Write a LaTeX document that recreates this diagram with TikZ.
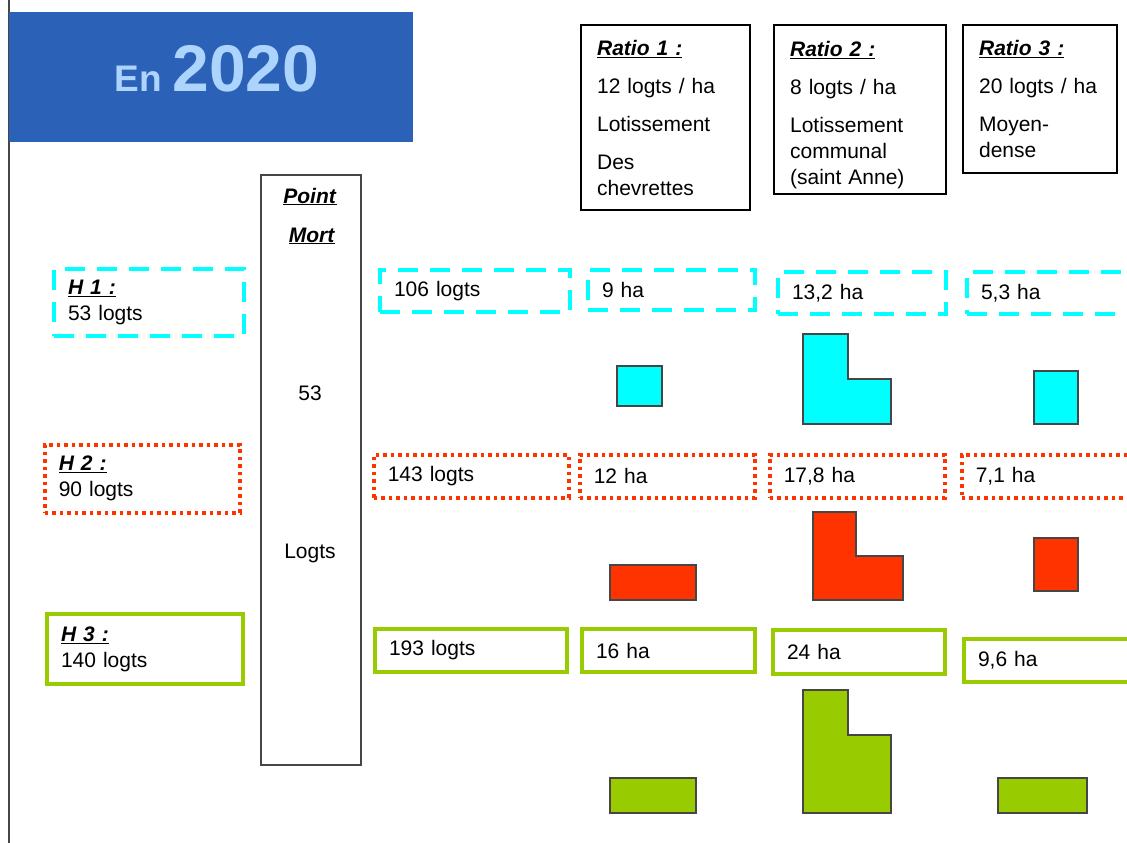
\documentclass[tikz,border=0pt]{standalone}
\usepackage{fontspec}
\setmainfont{Liberation Sans}
\usetikzlibrary{positioning}

\definecolor{bandblue}{RGB}{43,98,184}
\definecolor{titleblue}{RGB}{172,212,252}
\definecolor{hcyan}{RGB}{0,255,255}
\definecolor{hred}{RGB}{255,51,0}
\definecolor{hgreen}{RGB}{153,204,0}
\definecolor{edgegray}{RGB}{70,70,70}

\newcommand{\hlabel}[1]{\underline{\textbf{\textit{#1}}}}

\begin{document}
\begin{tikzpicture}[
    x=1pt, y=-1pt,
    font=\fontsize{21}{26}\selectfont,
    % Size of a cell: width and height, text starts 14pt inside
    boxdim/.code 2 args={%
        \pgfmathsetmacro\cellw{#1-28}%
        \edef\cellset{\noexpand\tikzset{minimum width=#1pt, minimum height=#2pt, text width=\cellw pt}}%
        \cellset},
    % Common look of the cells
    cell/.style={rectangle, anchor=north west, inner xsep=14pt, inner ysep=0pt, align=left},
    % Style for each scenario
    cyanbox/.style={cell, draw=hcyan, line width=4pt, dash pattern=on 20pt off 12pt},
    redbox/.style={cell, draw=hred, line width=3.5pt, dash pattern=on 3.5pt off 4pt},
    greenbox/.style={cell, draw=hgreen, line width=4pt},
    % Style for the ratio headers
    ratiobox/.style={rectangle, draw=black, line width=2.2pt, anchor=north west,
        inner xsep=16pt, inner ysep=0pt, align=left},
    % Style for the surface shapes
    plot/.style={draw=edgegray, line width=1.2pt}
]
\clip (0,0) rectangle (1127,843);

% --- Title band ---
\draw[edgegray, line width=1.5pt] (9,0) -- (9,843);
\node[fill=bandblue, anchor=north west, inner sep=0pt, minimum width=404pt, minimum height=130pt] (band) at (9,12) {};
\node[anchor=base, text=titleblue, inner sep=0pt] (title) at (217,92)
    {\fontsize{37}{37}\selectfont\bfseries En \fontsize{66}{66}\selectfont 2020};

% --- Ratio headers ---
\node[ratiobox, minimum width=169pt, minimum height=185pt, text width=137pt] (ratio1) at (580,24)
    {\hlabel{Ratio 1 :}\\[12pt] 12 logts / ha\\[12pt] Lotissement\\[12pt] Des\\ chevrettes};
\node[ratiobox, minimum width=172pt, minimum height=169pt, text width=140pt] (ratio2) at (773,24)
    {\rule{0pt}{26pt}\hlabel{Ratio 2 :}\\[12pt] 8 logts / ha\\[12pt] Lotissement\\ communal\\ (saint Anne)};
\node[ratiobox, minimum width=151pt, minimum height=148pt, text width=122pt] (ratio3) at (962,24)
    {\hlabel{Ratio 3 :}\\[12pt] 20 logts / ha\\[12pt] Moyen-\\ dense};

% --- Point mort column ---
\node[rectangle, draw=edgegray, line width=1.5pt, anchor=north west, minimum width=100pt, minimum height=590pt] (pm) at (260,174) {};
\node[anchor=base] (pmtop) at (310,203) {\hlabel{Point}};
\node[anchor=base] (pmbot) at (312,242) {\hlabel{Mort}};
\node[anchor=base] (pmval) at (310,400) {53};
\node[anchor=base] (pmunit) at (310,558) {Logts};

% --- H 1 ---
\node[cyanbox, boxdim={190}{67}] (h1) at (52,267) {\hlabel{H 1 :}\\ 53 logts};
\node[cyanbox, boxdim={190}{42}] (h1log) at (378,268) {106 logts};
\node[cyanbox, boxdim={167}{40}] (h1r1) at (586,268) {9 ha};
\node[cyanbox, boxdim={168}{42}] (h1r2) at (776,270) {13,2 ha};
\node[cyanbox, boxdim={200}{42}] (h1r3) at (965,270) {5,3 ha};
\draw[plot, fill=hcyan] (617,366) rectangle (662,406);
\draw[plot, fill=hcyan] (803,334) -- (848,334) -- (848,379) -- (891,379) -- (891,424) -- (803,424) -- cycle;
\draw[plot, fill=hcyan] (1034,371) rectangle (1078,424);

% --- H 2 ---
\node[redbox, boxdim={195}{68}] (h2) at (43,443) {\hlabel{H 2 :}\\ 90 logts};
\node[redbox, boxdim={195}{43}] (h2log) at (372,453) {143 logts};
\node[redbox, boxdim={175}{43}] (h2r1) at (578,453) {12 ha};
\node[redbox, boxdim={175}{43}] (h2r2) at (768,453) {17,8 ha};
\node[redbox, boxdim={200}{43}] (h2r3) at (960,453) {7,1 ha};
\draw[plot, fill=hred] (610,565) rectangle (696,600);
\draw[plot, fill=hred] (813,512) -- (856,512) -- (856,556) -- (903,556) -- (903,600) -- (813,600) -- cycle;
\draw[plot, fill=hred] (1034,538) rectangle (1078,591);

% --- H 3 ---
\node[greenbox, boxdim={196}{70}] (h3) at (45,612) {\hlabel{H 3 :}\\ 140 logts};
\node[greenbox, boxdim={192}{43}] (h3log) at (373,627) {193 logts};
\node[greenbox, boxdim={173}{43}] (h3r1) at (580,627) {16 ha};
\node[greenbox, boxdim={172}{44}] (h3r2) at (771,628) {24 ha};
\node[greenbox, boxdim={200}{43}] (h3r3) at (962,637) {9,6 ha};
\draw[plot, fill=hgreen] (610,778) rectangle (696,813);
\draw[plot, fill=hgreen] (803,690) -- (848,690) -- (848,735) -- (891,735) -- (891,813) -- (803,813) -- cycle;
\draw[plot, fill=hgreen] (998,778) rectangle (1087,813);

\end{tikzpicture}
\end{document}
